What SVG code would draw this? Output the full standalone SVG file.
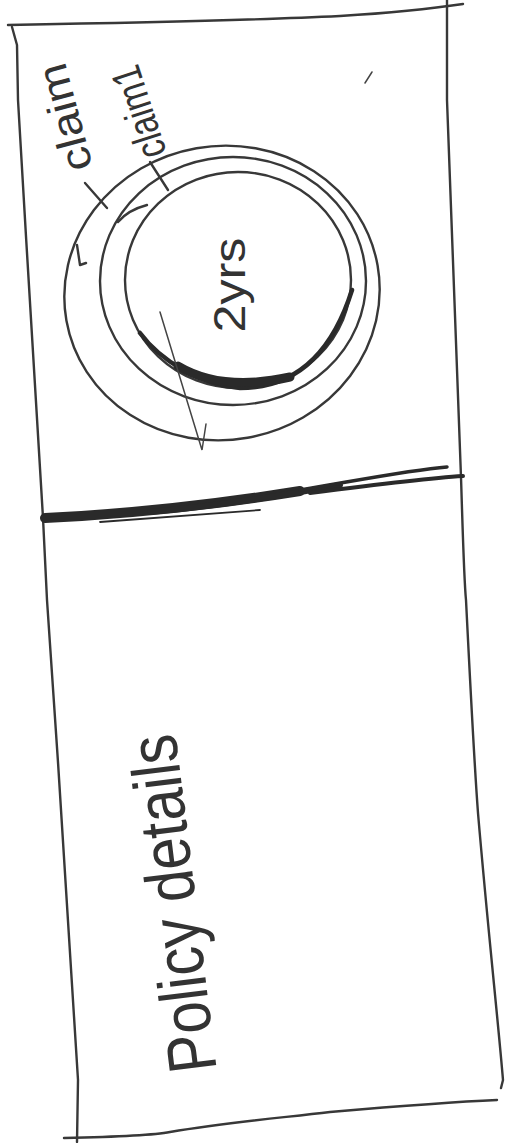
<svg xmlns="http://www.w3.org/2000/svg" width="507" height="1143" viewBox="0 0 507 1143">
  <style>
    .ln{fill:none;stroke:#383838;stroke-width:2.4;stroke-linecap:round;stroke-linejoin:round}
    .thin{fill:none;stroke:#444;stroke-width:1.5;stroke-linecap:round}
    .heavy{fill:none;stroke:#2a2a2a;stroke-linecap:round;stroke-linejoin:round}
    .hand{font-family:"Liberation Sans","DejaVu Sans",sans-serif;fill:#333}
  </style>
  <rect x="0" y="0" width="507" height="1143" fill="#ffffff"/>

  <g id="frame">
    <path class="ln" d="M8,25 C120,23 260,20 340,16 C390,13 430,9 463,4"/>
    <path class="ln" d="M447,0 L447,100 C452,240 457,380 461,477 C463,540 464,580 466,600 C470,680 474,760 478,813 C488,930 498,1020 503,1080 L501,1088"/>
    <path class="ln" d="M12,27 L17,45 L18,100 C26,240 36,400 43,518 L47,600 C58,760 70,940 78,1080 L77,1142"/>
    <path class="ln" d="M64,1138 C110,1137 150,1136 170,1132 C230,1122 280,1118 330,1112 C400,1106 450,1102 497,1100"/>
  </g>

  <g id="divider">
    <path class="heavy" stroke-width="10" d="M45,518 C110,515 200,507 300,491"/>
    <path class="heavy" stroke-width="6" d="M150,512 C220,506 280,496 340,485"/>
    <path class="heavy" stroke-width="3.5" d="M300,490 C360,480 410,470 447,467"/>
    <path class="heavy" stroke-width="4" d="M310,493 C380,484 430,478 463,476"/>
    <path class="heavy" stroke-width="1.8" d="M100,522 L260,510"/>
  </g>

  <g id="rings">
    <ellipse id="ring-outer" class="ln" cx="222" cy="293" rx="158" ry="147" transform="rotate(-10 222 293)"/>
    <ellipse id="ring-middle" class="ln" cx="233" cy="281" rx="133" ry="124"/>
    <ellipse id="ring-inner" class="ln" stroke-width="2.8" cx="238" cy="280" rx="113" ry="108"/>
    <path class="heavy" stroke-width="4.5" d="M140,333 C160,360 200,385 240,388 C290,388 330,360 352,290"/>
    <path class="heavy" stroke-width="9" d="M178,366 C205,382 240,388 290,377"/>
    <path class="ln" d="M85,183 L107,208"/>
    <path class="ln" d="M150,162 L168,190"/>
    <path class="ln" d="M118,222 Q128,210 147,205"/>
    <path class="ln" d="M77,245 L80,265 L86,263"/>
    <path class="thin" d="M160,312 L202,450 L206,424"/>
    <path class="thin" stroke="#999" d="M372,72 L365,83"/>
  </g>

  <g id="labels">
    <text class="hand" font-size="42" x="93" y="167" textLength="110" lengthAdjust="spacingAndGlyphs" transform="rotate(-105 93 167)">claim</text>
    <text class="hand" font-size="42" x="167" y="153" textLength="95" lengthAdjust="spacingAndGlyphs" transform="rotate(-108 167 153)">claim1</text>
    <text class="hand" font-size="44" x="245" y="285" text-anchor="middle" textLength="95" lengthAdjust="spacingAndGlyphs" transform="rotate(-90 245 285)">2yrs</text>
    <text class="hand" font-size="68" x="196" y="901" text-anchor="middle" textLength="340" lengthAdjust="spacingAndGlyphs" transform="rotate(-97 196 901)">Policy details</text>
  </g>
</svg>
